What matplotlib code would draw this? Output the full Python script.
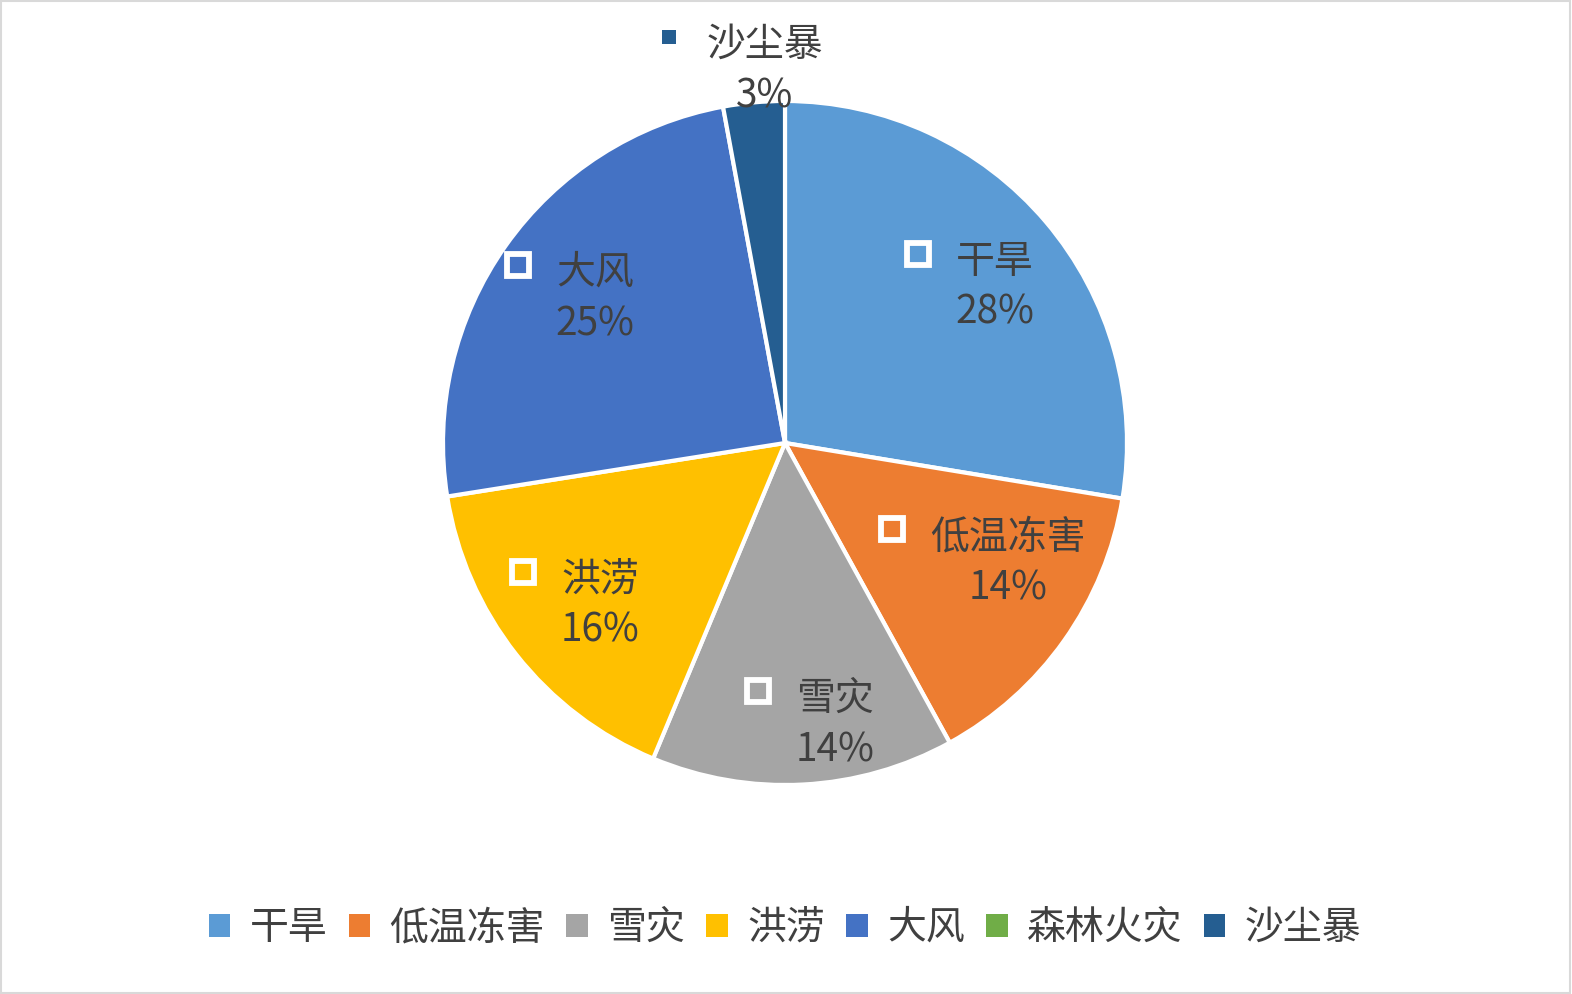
import matplotlib
matplotlib.use("Agg")
import matplotlib.pyplot as plt
from matplotlib.patches import Rectangle, Patch

plt.rcParams['font.family'] = ['Noto Sans CJK SC', 'DejaVu Sans']

# ---- data ----
categories = ['干旱', '低温冻害', '雪灾', '洪涝', '大风', '森林火灾', '沙尘暴']
values = [27.6, 14.4, 14.3, 16.2, 24.6, 0.0, 2.9]
colors = ['#5B9BD5', '#ED7D31', '#A5A5A5', '#FFC000', '#4472C4', '#70AD47', '#255E91']

# label placement (pixel coordinates of the name text centre), layout only
label_pos = {'干旱': (995, 257), '低温冻害': (1008, 532), '雪灾': (835, 694),
             '洪涝': (600, 575), '大风': (595, 268), '沙尘暴': (765, 40)}

W, H = 1572, 994
fig = plt.figure(figsize=(W / 100, H / 100), dpi=100)
ax = fig.add_axes([0, 0, 1, 1])
ax.set_xlim(0, W)
ax.set_ylim(0, H)
ax.set_aspect('equal')
ax.axis('off')

def Y(py):
    return H - py

total = sum(values)
draw_vals = [v for v in values if v > 0]
draw_cols = [c for v, c in zip(values, colors) if v > 0]
ax.pie(draw_vals, colors=draw_cols, startangle=90, counterclock=False,
       center=(785, Y(443)), radius=342, frame=True,
       wedgeprops=dict(edgecolor='white', linewidth=3.0))
ax.set_xlim(0, W)
ax.set_ylim(0, H)
ax.axis('off')

txt_color = '#404040'
fs = 28
dy = 5  # vertical correction for the CJK font's centre
for cat, v, col in zip(categories, values, colors):
    if v <= 0:
        continue
    px, py = label_pos[cat]
    ax.text(px, Y(py + dy), cat, ha='center', va='center', fontsize=fs, color=txt_color)
    ax.text(px, Y(py + 51 + dy), f"{round(v / total * 100)}%", ha='center', va='center',
            fontsize=fs, color=txt_color)
    # icon left of the name
    nchar = len(cat)
    ix = px - nchar * 19.5 - 38
    if cat == '沙尘暴':
        ax.add_patch(Rectangle((ix - 7, Y(py - 3) - 7), 14, 14, facecolor=col, edgecolor='none'))
    else:
        ax.add_patch(Rectangle((ix - 11, Y(py - 3) - 11), 22, 22, facecolor=col,
                               edgecolor='white', linewidth=4.2))

handles = [Patch(facecolor=c, edgecolor='none') for c in colors]
fig.legend(handles, categories, loc='center', bbox_to_anchor=(785 / W, 1 - 928 / H),
           ncol=7, frameon=False, fontsize=fs, handlelength=0.55, handleheight=0.55,
           handletextpad=0.5, columnspacing=0.55, labelcolor=txt_color)

fig.patches.append(Rectangle((0.0005, 0.0008), 0.998, 0.998, transform=fig.transFigure,
                             fill=False, edgecolor='#d9d9d9', linewidth=1.5))
fig.savefig('out.png', dpi=100, facecolor='white')
